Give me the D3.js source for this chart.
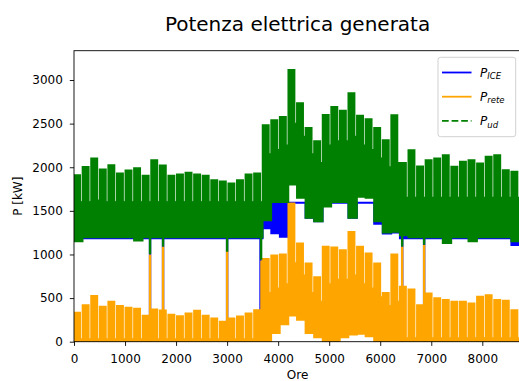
<!DOCTYPE html>
<meta charset="utf-8">
<style>
    body { margin: 0; background: #fff; }
    text { font-family: "DejaVu Sans", sans-serif; fill: #000; }
</style>
<body>
<svg width="519" height="381"></svg>
<script src="https://cdn.jsdelivr.net/npm/d3@7/dist/d3.min.js"></script>
<script>
    // hourly year (8760 h) summarised per week (168 h):
    // weekday peak, weekend peak and minimum of each series
    const weekHours = 168, weekdayHours = 120, yearHours = 8760;

    // P_ud - total demand [kW]
    const udHi = [1910, 2005, 2100, 1975, 2025, 1930, 1965, 1990, 1905, 2082, 2020, 1905, 1918, 1937, 1918, 1905, 1853, 1838, 1815, 1853, 1918, 1930,
        2483, 2540, 2578, 3115, 2735, 2450, 2300, 2600, 2693, 2650, 2850, 2590, 2550, 2450, 2311, 2597, 2050, 2197, 2010, 2082, 2100, 2140, 2006,
        2063, 2082, 2044, 2120, 2140, 1968, 1950, 1950];
    const udWe = [1600, 1600, 1620, 1600, 1600, 1600, 1600, 1600, 1600, 1600, 1600, 1600, 1600, 1600, 1600, 1600, 1600, 1600, 1600, 1600, 1600, 1600,
        2150, 2200, 2250, 2500, 2350, 2150, 2050, 2250, 2300, 2300, 2350, 2250, 2200, 2100, 2000, 2050, 1650, 1650, 1650, 1650, 1650, 1650, 1650,
        1650, 1650, 1650, 1650, 1650, 1650, 1650, 1650];
    const udLo = [1150, 1195, 1195, 1195, 1195, 1195, 1195, 1160, 1195, 1195, 1195, 1195, 1195, 1195, 1195, 1195, 1195, 1195, 1195, 1195, 1195, 1195,
        1390, 1600, 1600, 1800, 1650, 1420, 1380, 1550, 1600, 1600, 1420, 1660, 1650, 1380, 1250, 1260, 1220, 1195, 1195, 1195, 1195, 1130, 1195,
        1195, 1150, 1195, 1195, 1195, 1195, 1150, 1150];

    // P_ICE - engine output [kW]
    const iceHi = [1593, 1593, 1593, 1593, 1593, 1593, 1593, 1593, 1593, 1593, 1593, 1593, 1593, 1593, 1593, 1593, 1593, 1593, 1593, 1593, 1593, 1593,
        1593, 1593, 1593, 1593, 1593, 1593, 1593, 1593, 1593, 1593, 1593, 1593, 1593, 1593, 1593, 1593, 1593, 1593, 1593, 1593, 1593, 1593, 1593,
        1593, 1593, 1593, 1593, 1593, 1593, 1593, 1593];
    const iceLo = [1185, 1185, 1185, 1185, 1185, 1185, 1185, 1185, 1185, 1185, 1185, 1185, 1185, 1185, 1185, 1185, 1185, 1185, 1185, 1185, 1185, 1185,
        1300, 1242, 1203, 1593, 1593, 1420, 1380, 1593, 1593, 1593, 1420, 1593, 1593, 1350, 1240, 1250, 1185, 1185, 1185, 1185, 1185, 1185, 1185,
        1185, 1185, 1185, 1185, 1185, 1185, 1108, 1108];

    // P_rete - power taken from the grid [kW]
    const reteHi = [332, 420, 524, 401, 458, 410, 390, 380, 300, 370, 360, 310, 294, 325, 355, 300, 268, 229, 268, 290, 325, 363,
        950, 990, 1000, 1586, 1128, 898, 740, 1089, 1080, 1050, 1260, 1089, 1013, 898, 560, 1000, 630, 600, 420, 555, 500, 478, 458,
        458, 440, 516, 535, 478, 470, 363, 360];
    const reteWe = [30, 30, 30, 30, 30, 30, 30, 30, 30, 30, 30, 30, 30, 30, 30, 30, 30, 30, 30, 30, 30, 30,
        560, 610, 660, 900, 760, 560, 460, 660, 710, 710, 760, 660, 610, 510, 410, 460, 40, 40, 40, 40, 40, 40, 40,
        40, 40, 40, 40, 40, 40, 40, 40];
    const reteLo = [0, 0, 0, 0, 0, 0, 0, 0, 0, 0, 0, 0, 0, 0, 0, 0, 0, 0, 0, 0, 0, 0,
        0, 100, 200, 300, 250, 100, 50, 0, 0, 50, 80, 90, 60, 0, 0, 0, 0, 0, 0, 0, 0, 0, 0,
        0, 0, 0, 0, 0, 0, 0, 0];

    // short engine stops
    const iceOffHours = [1490, 1745, 3000, 3655, 6430, 6860];
    const iceOffValues = [0, 0, 0, 100, 0, 0];
    const reteSpikeHours = [1490, 1745, 3000, 3672, 6430, 6860];
    const reteSpikeValues = [1000, 1090, 1050, 930, 1090, 1110];
    const udDipHours = [1490, 1745, 3000, 3666, 6430, 6860];
    const udDipValues = [1005, 1090, 1030, 940, 1090, 1110];

    const xTicks = [0, 1000, 2000, 3000, 4000, 5000, 6000, 7000, 8000];
    const yTicks = [0, 500, 1000, 1500, 2000, 2500, 3000];

    const plotLeft = 74, plotRight = 521.1, plotTop = 50.7, plotBottom = 341.7;
    const x = d3.scaleLinear().domain([0, yearHours]).range([plotLeft, plotRight]);
    const y = d3.scaleLinear().domain([0, 3336]).range([plotBottom, plotTop]);

    const svg = d3.select("svg");

    svg.append("clipPath").attr("id", "plot")
        .append("rect")
        .attr("x", plotLeft).attr("y", plotTop)
        .attr("width", plotRight - plotLeft).attr("height", plotBottom - plotTop);

    const g = svg.append("g").attr("clip-path", "url(#plot)");

    // weekly steps: weekdays reach the peak, weekend only the lower value
    function weeks(hi, we, lo) {
        const pts = [];
        hi.forEach((v, i) => {
            pts.push({ h: i * weekHours, hi: v, lo: lo[i] });
            pts.push({ h: i * weekHours + weekdayHours, hi: we ? we[i] : v, lo: lo[i] });
        });
        const last = pts[pts.length - 1];
        pts.push({ h: hi.length * weekHours, hi: last.hi, lo: last.lo });
        return pts;
    }

    const band = d3.area()
        .x(d => x(d.h))
        .y0(d => y(d.lo))
        .y1(d => y(d.hi))
        .curve(d3.curveStepAfter);

    function drawBand(pts, color) {
        g.append("path")
            .attr("d", band(pts))
            .attr("fill", color)
            .attr("stroke", color)
            .attr("stroke-width", 1.8);
    }

    function drawEvents(hours, values, from, color) {
        g.selectAll(null)
            .data(hours)
            .enter().append("line")
            .attr("x1", d => x(d)).attr("x2", d => x(d))
            .attr("y1", d => y(from(d)))
            .attr("y2", (d, i) => y(values[i]))
            .attr("stroke", color)
            .attr("stroke-width", 2.4);
    }

    const week = h => Math.min(Math.floor(h / weekHours), udLo.length - 1);

    const blue = "#0000ff", orange = "#ffa500", green = "#008000";

    drawBand(weeks(iceHi, null, iceLo), blue);
    drawEvents(iceOffHours, iceOffValues, h => iceLo[week(h)], blue);

    drawBand(weeks(reteHi, reteWe, reteLo), orange);
    drawEvents(reteSpikeHours, reteSpikeValues, h => 0, orange);

    drawBand(weeks(udHi, udWe, udLo), green);
    drawEvents(udDipHours, udDipValues, h => udLo[week(h)], green);

    // axes
    const xAxis = svg.append("g")
        .attr("transform", "translate(0," + plotBottom + ")")
        .call(d3.axisBottom(x).tickValues(xTicks).tickFormat(d3.format("d"))
            .tickSize(4.2).tickSizeOuter(0).tickPadding(8.3));
    const yAxis = svg.append("g")
        .attr("transform", "translate(" + plotLeft + ",0)")
        .call(d3.axisLeft(y).tickValues(yTicks).tickFormat(d3.format("d"))
            .tickSize(4.2).tickSizeOuter(0).tickPadding(7));

    [xAxis, yAxis].forEach(a => {
        a.select(".domain").remove();
        a.selectAll("line").attr("stroke", "#000").attr("stroke-width", 0.9);
        a.selectAll("text")
            .attr("font-family", "DejaVu Sans")
            .attr("font-size", 12)
            .attr("fill", "#000");
    });

    // spines
    svg.append("rect")
        .attr("x", plotLeft).attr("y", plotTop)
        .attr("width", plotRight - plotLeft).attr("height", plotBottom - plotTop)
        .attr("fill", "none")
        .attr("stroke", "#000")
        .attr("stroke-width", 0.9);

    svg.append("text")
        .attr("x", (plotLeft + plotRight) / 2).attr("y", 30.5)
        .attr("text-anchor", "middle")
        .attr("font-size", 20)
        .text("Potenza elettrica generata");

    svg.append("text")
        .attr("x", (plotLeft + plotRight) / 2).attr("y", 379)
        .attr("text-anchor", "middle")
        .attr("font-size", 12)
        .text("Ore");

    svg.append("text")
        .attr("transform", "translate(21.5," + (plotTop + plotBottom) / 2 + ") rotate(-90)")
        .attr("text-anchor", "middle")
        .attr("font-size", 12)
        .text("P [kW]");

    // legend
    const legend = svg.append("g");
    legend.append("rect")
        .attr("x", 438).attr("y", 57.3)
        .attr("width", 77.7).attr("height", 79.4)
        .attr("rx", 2.5)
        .attr("fill", "#fff").attr("fill-opacity", 0.8)
        .attr("stroke", "#cccccc").attr("stroke-width", 0.9);

    const entries = [
        { sym: "P", sub: "ICE", color: blue, dash: null },
        { sym: "P", sub: "rete", color: orange, dash: null },
        { sym: "P", sub: "ud", color: green, dash: "6.7,2.9" }
    ];

    entries.forEach((e, i) => {
        const ly = 72.5 + i * 24.2;
        legend.append("line")
            .attr("x1", 442).attr("x2", 471.5)
            .attr("y1", ly).attr("y2", ly)
            .attr("stroke", e.color)
            .attr("stroke-width", 1.8)
            .attr("stroke-dasharray", e.dash);
        const t = legend.append("text")
            .attr("x", 480).attr("y", ly + 4.5)
            .attr("font-size", 12);
        t.append("tspan").attr("font-style", "italic").text(e.sym);
        t.append("tspan").attr("font-style", "italic")
            .attr("font-size", 8.5).attr("dy", 2.2)
            .text(e.sub);
    });
</script>
</body>
